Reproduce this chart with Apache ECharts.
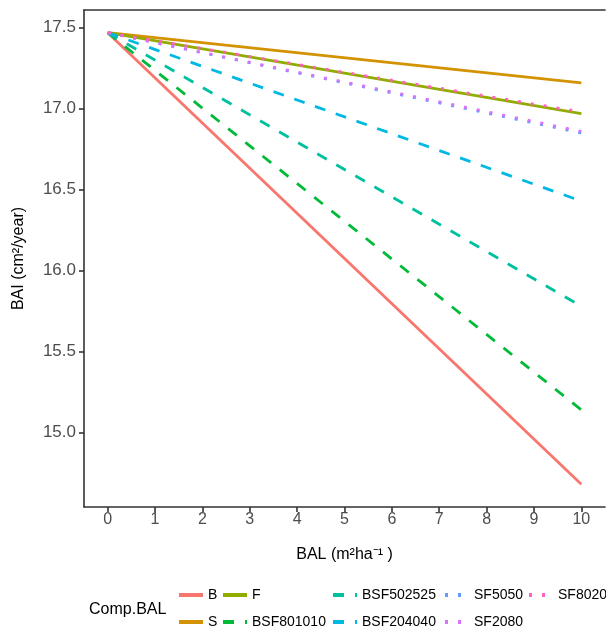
<!DOCTYPE html>
<html>
<head>
<meta charset="utf-8">
<script src="https://cdn.jsdelivr.net/npm/echarts@6/dist/echarts.min.js"></script>
<style>
  html, body { margin: 0; padding: 0; background: #fff; }
  #chart { width: 606px; height: 629px; }
</style>
</head>
<body>
<div id="chart"></div>
<script>
// BAL values at the two ends of each prediction line
const balX = [0, 10]
const xTicks = [0, 1, 2, 3, 4, 5, 6, 7, 8, 9, 10]
const yTicks = [15.0, 15.5, 16.0, 16.5, 17.0, 17.5]

// predicted BAI per competition type
const B = [17.47, 14.68]
const S = [17.47, 17.16]
const F = [17.47, 16.97]
const BSF801010 = [17.47, 15.14]
const BSF502525 = [17.47, 15.78]
const BSF204040 = [17.47, 16.43]
const SF5050 = [17.47, 16.85]
const SF2080 = [17.47, 16.86]
const SF8020 = [17.47, 16.98]

const names = ['B', 'S', 'F', 'BSF801010', 'BSF502525', 'BSF204040', 'SF5050', 'SF2080', 'SF8020']
const values = [B, S, F, BSF801010, BSF502525, BSF204040, SF5050, SF2080, SF8020]
const colors = ['#F8766D', '#D39200', '#93AA00', '#00BA38', '#00C19F', '#00B9E3', '#619CFF', '#DB72FB', '#FF61C3']
const dashes = ['solid', 'solid', 'solid', [11, 11], [11, 11], [11, 11], [3, 10], [3, 10], [3, 10]]

const chart = echarts.init(document.getElementById('chart'))

const seriesArr = names.map((name, i) => {
  return {
    name: name,
    type: 'line',
    symbol: 'none',
    silent: true,
    data: balX.map((x, j) => [x, values[i][j]]),
    lineStyle: {
      color: colors[i],
      width: 2.8,
      type: dashes[i],
      cap: 'butt'
    },
    itemStyle: { color: colors[i] }
  }
})

// legend is laid out column by column, two rows
const legendCols = [
  { left: 177, data: ['B', 'S'] },
  { left: 221, data: ['F', 'BSF801010'] },
  { left: 331, data: ['BSF502525', 'BSF204040'] },
  { left: 443, data: ['SF5050', 'SF2080'] },
  { left: 527, data: ['SF8020'] }
]
const legendArr = legendCols.map(col => {
  return {
    orient: 'vertical',
    left: col.left,
    top: 588,
    padding: 0,
    itemWidth: 24,
    itemHeight: 14,
    itemGap: 13,
    selectedMode: false,
    data: col.data,
    itemStyle: { color: 'rgba(0,0,0,0)', borderWidth: 0, opacity: 0 },
    lineStyle: { width: 4 },
    textStyle: { fontSize: 14, color: '#000', fontFamily: 'Liberation Sans' }
  }
})

const option = {
  animation: false,
  backgroundColor: '#fff',
  textStyle: { fontFamily: 'Liberation Sans' },
  title: {
    text: 'Comp.BAL',
    left: 84,
    top: 597,
    textStyle: { fontSize: 16, fontWeight: 'normal', color: '#000' }
  },
  legend: legendArr,
  grid: { left: 84, right: 1, top: 10, bottom: 122 },
  xAxis: [{
    type: 'value',
    min: -0.5,
    max: 10.5,
    name: 'BAL (m\u00B2ha\u207B\u00B9 )',
    nameLocation: 'middle',
    nameGap: 40,
    nameTextStyle: { fontSize: 16, color: '#000' },
    splitLine: { show: false },
    axisLine: { onZero: false, lineStyle: { color: '#333', width: 1.6 } },
    axisTick: { customValues: xTicks, length: 5, lineStyle: { color: '#333', width: 1.6 } },
    axisLabel: { customValues: xTicks, fontSize: 16, color: '#4D4D4D', margin: 5 }
  }, {
    type: 'value',
    position: 'top',
    min: -0.5,
    max: 10.5,
    splitLine: { show: false },
    axisLine: { show: true, onZero: false, lineStyle: { color: '#333', width: 1.6 } },
    axisTick: { show: false },
    axisLabel: { show: false }
  }],
  yAxis: {
    type: 'value',
    min: 14.54,
    max: 17.61,
    name: 'BAI (cm\u00B2/year)',
    nameLocation: 'middle',
    nameGap: 57,
    nameTextStyle: { fontSize: 16, color: '#000' },
    splitLine: { show: false },
    axisLine: { show: true, onZero: false, lineStyle: { color: '#333', width: 1.6 } },
    axisTick: { customValues: yTicks, length: 5, lineStyle: { color: '#333', width: 1.6 } },
    axisLabel: {
      customValues: yTicks,
      fontSize: 17,
      color: '#4D4D4D',
      margin: 8,
      formatter: v => v.toFixed(1)
    }
  },
  series: seriesArr
}

chart.setOption(option)
</script>
</body>
</html>
